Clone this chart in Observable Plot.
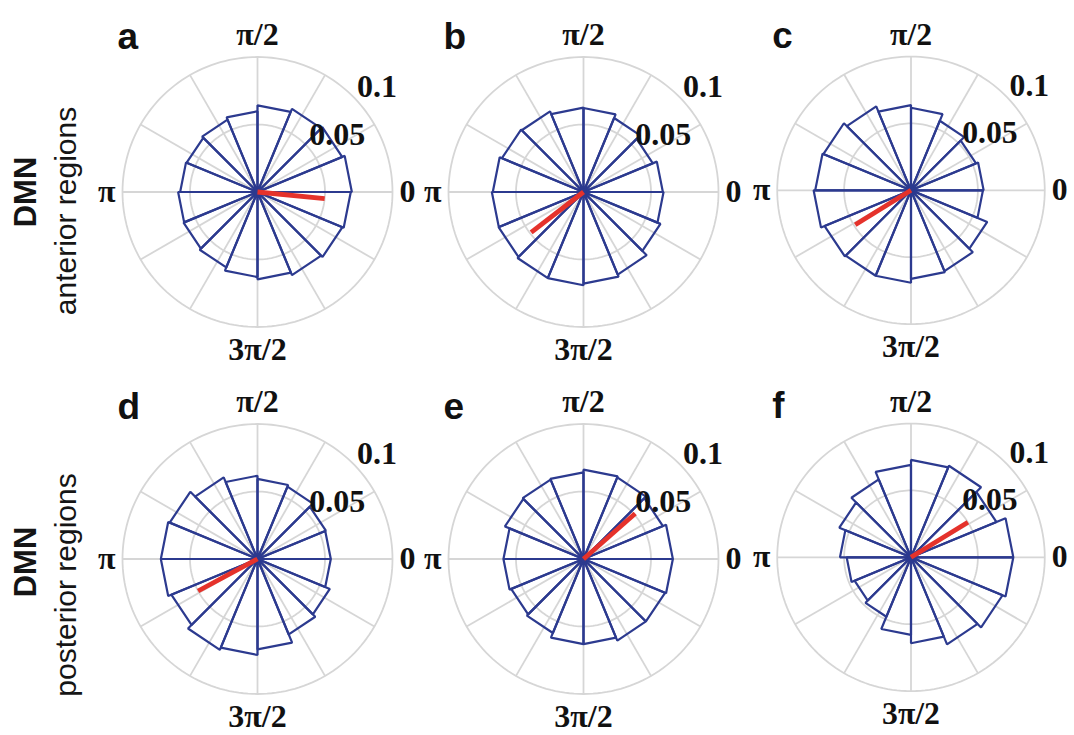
<!DOCTYPE html>
<html><head><meta charset="utf-8">
<script src="https://cdn.jsdelivr.net/npm/d3@7"></script>
<script src="https://cdn.jsdelivr.net/npm/@observablehq/plot@0.6"></script>
<style>
html,body{margin:0;padding:0;background:#fff;}
#fig{position:relative;width:1074px;height:735px;overflow:hidden;background:#fff;}
.panel{position:absolute;}
.panel svg{overflow:visible;background:transparent !important;}
.rowlab{position:absolute;white-space:nowrap;font-family:"Liberation Sans",Arial,sans-serif;font-size:30px;line-height:30px;color:#151515;transform:translate(-50%,-50%) rotate(-90deg);}
</style></head>
<body><div id="fig"></div>
<script>
// ---- data ----
const panelLetters = ["a","b","c","d","e","f"];
const rowTitles = ["DMN","DMN"];
const rowSubtitles = ["anterior regions","posterior regions"];
// probability per 22.5° bin, bins start at 0 rad and go counter-clockwise
const probA = [0.0699,0.0679,0.0667,0.0642,0.0598,0.0580,0.0568,0.0573,0.0588,0.0593,0.0605,0.0630,0.0647,0.0667,0.0681,0.0691];
const probB = [0.0588,0.0556,0.0593,0.0622,0.0625,0.0647,0.0654,0.0672,0.0679,0.0681,0.0691,0.0691,0.0679,0.0662,0.0617,0.0593];
const probC = [0.0543,0.0526,0.0563,0.0617,0.0637,0.0679,0.0709,0.0716,0.0728,0.0699,0.0691,0.0691,0.0662,0.0654,0.0617,0.0538];
const probD = [0.0543,0.0548,0.0580,0.0593,0.0617,0.0654,0.0704,0.0716,0.0716,0.0691,0.0728,0.0711,0.0670,0.0605,0.0580,0.0543];
const probE = [0.0662,0.0637,0.0654,0.0662,0.0642,0.0637,0.0630,0.0593,0.0593,0.0580,0.0593,0.0630,0.0630,0.0654,0.0654,0.0662];
const probF = [0.0765,0.0691,0.0741,0.0728,0.0691,0.0630,0.0580,0.0531,0.0481,0.0457,0.0481,0.0580,0.0642,0.0704,0.0741,0.0765];
// mean direction (degrees) and length of the red vector
const meanDirDeg = [354.3, 217.7, 211.7, 208.3, 41.3, 31.7];
const meanLen = [0.050, 0.049, 0.049, 0.050, 0.051, 0.050];
// axis ticks
const angleTickDeg = [0, 90, 180, 270];
const angleTickLabels = ["0", "π/2", "π", "3π/2"];
const radialTicks = [0.05, 0.1];
const radialTickLabels = ["0.05", "0.1"];
const spokeStepDeg = 30;

// ---- layout ----
const allProbs = [probA, probB, probC, probD, probE, probF];
const colCenters = [257, 583, 912];
const rowCenters = [191.7, 558.3];
const W = 330, H = 367, PX_PER_UNIT = 1350;
const navy = "#2c3a8f", red = "#e5322b", grey = "#d6d6d6";
const serif = "'Liberation Serif','Times New Roman',serif";
const sans = "'Liberation Sans',Arial,sans-serif";
const rad = d => d * Math.PI / 180;
const rMax = d3.max(radialTicks);

function makePanel(i) {
  const probs = allProbs[i];
  const binW = 360 / probs.length;
  const wedges = [];
  probs.forEach((p, k) => {
    const a0 = rad(k * binW), a1 = rad((k + 1) * binW);
    wedges.push({bin: k, x: 0, y: 0},
                {bin: k, x: p * Math.cos(a0), y: p * Math.sin(a0)},
                {bin: k, x: p * Math.cos(a1), y: p * Math.sin(a1)},
                {bin: k, x: 0, y: 0});
  });
  const circles = [];
  radialTicks.forEach(r => {
    for (let a = 0; a <= 360; a += 2) circles.push({r, x: r * Math.cos(rad(a)), y: r * Math.sin(rad(a))});
  });
  const spokes = d3.range(0, 360, spokeStepDeg);
  const ticks = angleTickDeg.map((d, j) => ({deg: d, label: angleTickLabels[j]}));
  const rticks = radialTicks.map((v, j) => ({v, label: radialTickLabels[j]}));
  const row = Math.floor(i / 3);
  const tickFont = {fontFamily: serif, fontWeight: "bold", fontSize: 32, fill: "#111"};
  return Plot.plot({
    width: W, height: H, margin: 0,
    x: {domain: [-W / 2 / PX_PER_UNIT, W / 2 / PX_PER_UNIT], axis: null},
    y: {domain: [-H / 2 / PX_PER_UNIT, H / 2 / PX_PER_UNIT], axis: null},
    style: {background: "transparent", overflow: "visible"},
    marks: [
      Plot.line(circles, {x: "x", y: "y", z: "r", stroke: grey, strokeWidth: 1.8}),
      Plot.link(spokes, {x1: () => 0, y1: () => 0, x2: d => rMax * Math.cos(rad(d)), y2: d => rMax * Math.sin(rad(d)), stroke: grey, strokeWidth: 1.8}),
      Plot.line(wedges, {x: "x", y: "y", z: "bin", stroke: navy, strokeWidth: 2.2, strokeLinejoin: "miter"}),
      Plot.dot([0], {x: () => 0, y: () => 0, r: 3.2, fill: navy, stroke: null}),
      Plot.link([i], {x1: () => 0, y1: () => 0, x2: j => meanLen[j] * Math.cos(rad(meanDirDeg[j])), y2: j => meanLen[j] * Math.sin(rad(meanDirDeg[j])), stroke: red, strokeWidth: 4.8, strokeLinecap: "butt"}),
      // angular tick labels
      Plot.text(ticks.filter(t => t.deg === 0), {x: () => rMax, y: () => 0, text: "label", textAnchor: "start", dx: 7, ...tickFont}),
      Plot.text(ticks.filter(t => t.deg === 180), {x: () => -rMax, y: () => 0, text: "label", textAnchor: "end", dx: -7, ...tickFont}),
      Plot.text(ticks.filter(t => t.deg === 90), {x: () => 0, y: () => rMax, text: "label", textAnchor: "middle", dy: -22, ...tickFont}),
      Plot.text(ticks.filter(t => t.deg === 270), {x: () => 0, y: () => -rMax, text: "label", textAnchor: "middle", dy: 23, ...tickFont}),
      // radial tick labels
      Plot.text(rticks, {x: d => d.v * Math.cos(rad(45)), y: d => d.v * Math.sin(rad(45)), text: "label", textAnchor: "start", dx: 4, dy: -10, ...tickFont}),
      // panel letter
      Plot.text([panelLetters[i]], {frameAnchor: "top-left", textAnchor: "start", dx: 25, dy: row === 0 ? 14 : 17, fontFamily: sans, fontWeight: "bold", fontSize: 37, fill: "#111"})
    ]
  });
}

const fig = document.getElementById("fig");
allProbs.forEach((_, i) => {
  const div = document.createElement("div");
  div.className = "panel";
  div.style.left = (colCenters[i % 3] - W / 2) + "px";
  div.style.top = (rowCenters[Math.floor(i / 3)] - H / 2) + "px";
  div.appendChild(makePanel(i));
  fig.appendChild(div);
});

// row labels (rotated)
const rowLabelPos = [{t: [26, 192], s: [66, 211]}, {t: [26, 562], s: [66, 585]}];
rowTitles.forEach((t, r) => {
  const a = document.createElement("div");
  a.className = "rowlab";
  a.style.fontWeight = "bold";
  a.style.fontSize = "31px";
  a.textContent = t;
  a.style.left = rowLabelPos[r].t[0] + "px";
  a.style.top = rowLabelPos[r].t[1] + "px";
  fig.appendChild(a);
  const b = document.createElement("div");
  b.className = "rowlab";
  b.textContent = rowSubtitles[r];
  b.style.left = rowLabelPos[r].s[0] + "px";
  b.style.top = rowLabelPos[r].s[1] + "px";
  fig.appendChild(b);
});
</script>
</body></html>
